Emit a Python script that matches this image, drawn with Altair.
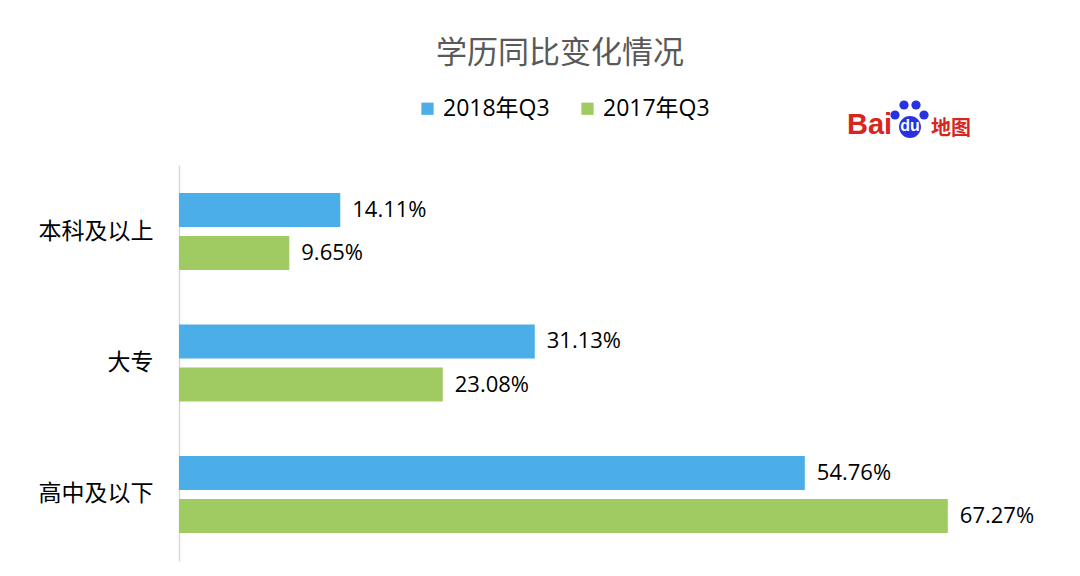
import altair as alt
import pandas as pd

categories = ["本科及以上", "大专", "高中及以下"]
series = ["2018年Q3", "2017年Q3"]
values_2018 = [14.11, 31.13, 54.76]
values_2017 = [9.65, 23.08, 67.27]
colors = ["#4BAEE8", "#A0CB62"]

rows = []
for c, a, b in zip(categories, values_2018, values_2017):
    rows.append({"cat": c, "series": series[0], "value": a})
    rows.append({"cat": c, "series": series[1], "value": b})
df = pd.DataFrame(rows)
df["label"] = df["value"].map(lambda v: f"{v:.2f}%")

FONT = "Open Sans, Noto Sans CJK SC"
CJK = "Noto Sans CJK SC"

x = alt.X("value:Q", scale=alt.Scale(domain=[0, 70]), axis=None)
y = alt.Y(
    "cat:N",
    sort=categories,
    scale=alt.Scale(paddingInner=0.414, paddingOuter=0.213),
    axis=alt.Axis(
        title=None, ticks=False, domainColor="#D9D9D9", domainWidth=1.5,
        labelFontSize=23, labelColor="#000000", labelPadding=26, labelFont=CJK,
    ),
)
yoff = alt.YOffset("series:N", sort=series, scale=alt.Scale(paddingInner=0.21, paddingOuter=0))

base = alt.Chart(df).encode(y=y, yOffset=yoff)

bars = base.mark_bar().encode(
    x=x,
    color=alt.Color(
        "series:N",
        sort=series,
        scale=alt.Scale(domain=series, range=colors),
        legend=alt.Legend(
            title=None, orient="none", direction="horizontal",
            legendX=237, legendY=-68, symbolType="square", symbolSize=150,
            symbolStrokeWidth=0, labelFontSize=23, labelFont=FONT,
            labelColor="#000000", columnPadding=26, labelOffset=4,
        ),
    ),
)

labels = base.mark_text(align="left", baseline="middle", dx=12, fontSize=22, font=FONT, color="#000000").encode(
    x=x, text="label:N"
)

logo_df = pd.DataFrame({"k": [0]})
logo_base = alt.Chart(logo_df)
bai = logo_base.mark_text(text="Bai", align="left", baseline="alphabetic", fontSize=29, fontWeight="bold",
                          font="Liberation Sans", color="#D7261E").encode(x=alt.value(668), y=alt.value(-31))
toes_df = pd.DataFrame({"tx": [716, 725, 737, 745], "ty": [-50, -60, -60, -50]})
toes = alt.Chart(toes_df).mark_circle(color="#2932E1", opacity=1, size=85).encode(
    x=alt.X("tx:Q", scale=None), y=alt.Y("ty:Q", scale=None)
)
pad = logo_base.mark_point(shape="circle", filled=True, color="#2932E1", opacity=1, size=480).encode(
    x=alt.value(731), y=alt.value(-38)
)
du = logo_base.mark_text(text="du", align="center", baseline="middle", fontSize=16, fontWeight="bold",
                         font="Liberation Sans", color="#FFFFFF").encode(x=alt.value(731), y=alt.value(-39))
ditu = logo_base.mark_text(text="地图", align="left", baseline="alphabetic", fontSize=20, fontWeight="bold",
                           font=CJK, color="#D7261E").encode(x=alt.value(752), y=alt.value(-30))

chart = alt.layer(bars, labels, bai, toes, pad, du, ditu).properties(
    width=800,
    height=396,
    background="white",
    title=alt.TitleParams(
        "学历同比变化情况", fontSize=31, font=CJK, fontWeight="normal", color="#595959",
        anchor="middle", frame="group", dx=-19, offset=27,
    ),
    autosize=alt.AutoSizeParams(type="none"),
    padding={"left": 171, "top": 157, "right": 90, "bottom": 8},
).configure_view(stroke="transparent", strokeWidth=0)

chart.save("out.html", embed_options={"renderer": "svg", "actions": False})
